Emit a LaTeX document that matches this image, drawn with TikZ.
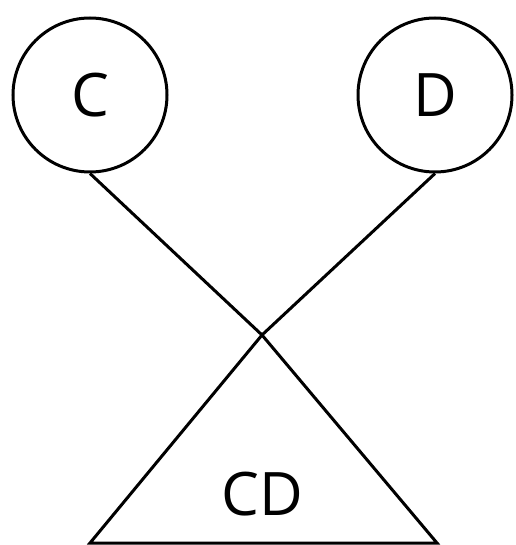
\documentclass[tikz,border=0pt]{standalone}
\usepackage{fontspec}
\setmainfont{Open Sans}
\begin{document}
\begin{tikzpicture}[x=1pt,y=-1pt,
  ln/.style={line width=3pt,black},
  circ/.style={circle,draw,line width=3pt,minimum size=154pt,inner sep=0pt,font=\fontsize{60}{60}\selectfont},
  lbl/.style={font=\fontsize{60}{60}\selectfont}]
\useasboundingbox (0,0) rectangle (515,545);
\node[circ] (C) at (90,95) {C};
\node[circ] (D) at (435,95) {D};
\coordinate (apex) at (262,335);
\coordinate (bl) at (90,543);
\coordinate (br) at (437,543);
\draw[ln] (C.south) -- (apex);
\draw[ln] (D.south) -- (apex);
\draw[ln,line join=miter] (apex) -- (bl) -- (br) -- cycle;
\node[lbl] (CD) at (262,494) {CD};
\end{tikzpicture}
\end{document}
